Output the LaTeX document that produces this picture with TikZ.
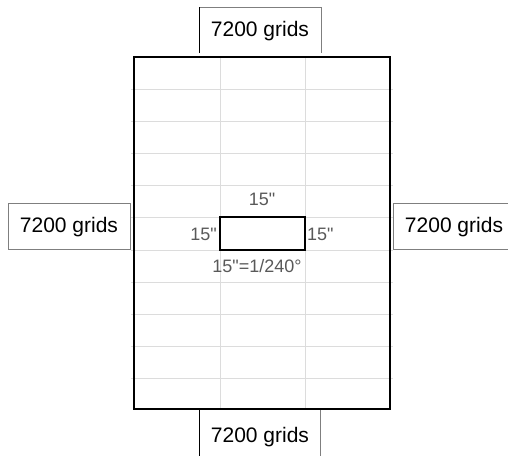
\documentclass[tikz,border=0pt]{standalone}
\usepackage{fontspec}
\setmainfont{Liberation Sans}
\newfontfamily\labfont{Liberation Sans}
\definecolor{gridc}{HTML}{DCDCDC}
\definecolor{labc}{HTML}{595959}
\definecolor{boxc}{HTML}{7F7F7F}
\tikzset{
  gridline/.style={draw=gridc, line width=1pt},
  frame/.style={draw=black, line width=2pt},
  gridsbox/.style={draw=boxc, line width=0.8pt, fill=white},
  gridstext/.style={font=\fontsize{21}{24}\selectfont, text=black, inner sep=0pt},
  dimlabel/.style={font=\labfont\fontsize{18}{20}\selectfont, text=labc, inner sep=0pt}
}
\begin{document}
\begin{tikzpicture}[x=1pt,y=-1pt]
\useasboundingbox (0,0) rectangle (508,455);
% grid lines
\foreach \y in {89,121,153,185,217,250,282,314,346,378}
  \draw[gridline] (131,\y) -- (393,\y);
\foreach \x in {220,305}
  \draw[gridline] (\x,57) -- (\x,409);
% top box
\draw[gridsbox] (199,53) -- (199,7) -- (321,7) -- (321,53);
\draw[black, line width=0.8pt] (199,7) -- (199,53);
\node[gridstext] (top) at (260,31) {7200 grids};
% left box
\draw[gridsbox] (8,203) rectangle (130,249);
\node[gridstext] (left) at (69,227) {7200 grids};
% right box
\draw[gridsbox] (509,203) -- (393,203) -- (393,249) -- (509,249);
\node[gridstext] (right) at (454,227) {7200 grids};
% bottom box
\draw[black, line width=0.8pt] (199,409) -- (199,456);
\draw[boxc, line width=0.8pt] (320,409) -- (320,456);
\node[gridstext] (bottom) at (260,437) {7200 grids};
% main frame
\draw[frame] (134,57) rectangle (390,409);
% small cell
\draw[frame] (220,217) rectangle (305,249.5);
\node[dimlabel] (ltop) at (262,199) {15"};
\node[dimlabel, anchor=east] (lleft) at (217,234) {15"};
\node[dimlabel, anchor=west] (lright) at (307,234) {15"};
\node[dimlabel] (lbot) at (257,266) {15"=1/240°};
\end{tikzpicture}
\end{document}
